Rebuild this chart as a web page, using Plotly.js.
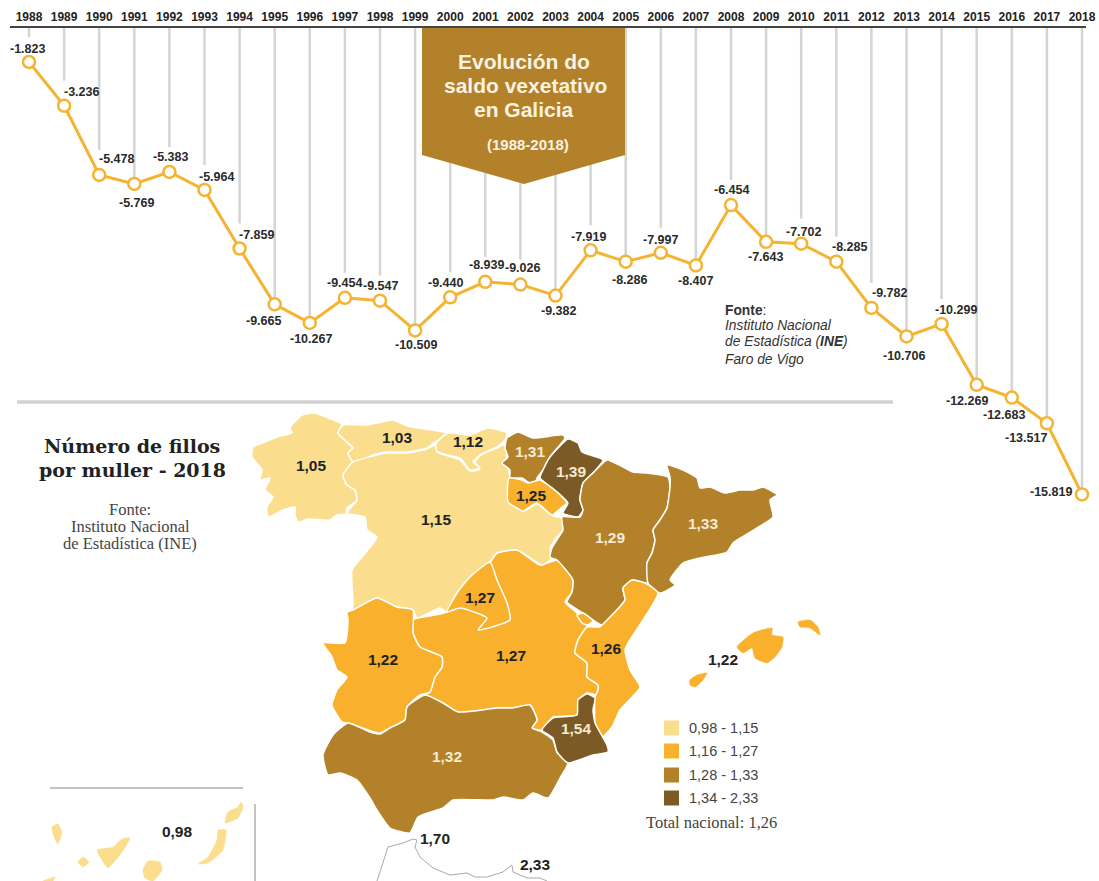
<!DOCTYPE html>
<html><head><meta charset="utf-8">
<script src="https://cdn.plot.ly/plotly-3.0.1.min.js"></script>
<style>html,body{margin:0;padding:0;background:#fff}#c{width:1099px;height:881px}</style>
</head><body><div id="c"></div>
<script>
// ---- data: natural balance (saldo vexetativo)
const years=[1988,1989,1990,1991,1992,1993,1994,1995,1996,1997,1998,1999,2000,2001,2002,2003,2004,2005,2006,2007,2008,2009,2010,2011,2012,2013,2014,2015,2016,2017,2018];
const saldo=[-1823,-3236,-5478,-5769,-5383,-5964,-7859,-9665,-10267,-9454,-9547,-10509,-9440,-8939,-9026,-9382,-7919,-8286,-7997,-8407,-6454,-7643,-7702,-8285,-9782,-10706,-10299,-12269,-12683,-13517,-15819];
// ---- label offsets (px) relative to each point
const labelDx=[-2,17,17,2,1,12,17,-11,1,0,0,1,-5,1,2,3,-2,4,0,0,0,-1,2,13,18,-3,14,-10,-8,-21,-31];
const labelDy=[-13,-14,-16,19,-15,-13,-14,17,16,-15,-15,15,-14,-17,-17,15,-13,18,-13,16,-15,15,-12,-15,-15,20,-14,16,17,15,-2];

// ---- data: fertility by region (fillos por muller)
const regionNames=["Galicia","Asturias","Cantabria","Castela e León","País Vasco","Navarra","A Rioxa","Aragón","Cataluña","Valencia","Castela-A Mancha","Madrid","Estremadura","Andalucía","Murcia","Baleares","Canarias","Ceuta","Melilla"];
const fertility=[1.05,1.03,1.12,1.15,1.31,1.39,1.25,1.29,1.33,1.26,1.27,1.27,1.22,1.32,1.54,1.22,0.98,1.70,2.33];
const binLabels=["0,98 - 1,15","1,16 - 1,27","1,28 - 1,33","1,34 - 2,33"];
const binTops=[1.15,1.27,1.33,2.33];
const binColors=["#FBDD8E","#F9B12D","#B2812A","#7C5A26"];

// ---- map geometry, in sheet units
const shapes={
 "Castela-A Mancha":[[[417,618],[447,612],[470,577],[490,562],[497,553],[517,550],[540,565],[558,560],[573,580],[572,592],[565,602],[577,613],[588,625],[578,640],[575,653],[587,663],[587,677],[598,685],[598,695],[587,693],[578,700],[577,715],[553,717],[542,730],[532,728],[537,720],[530,705],[513,708],[497,708],[458,712],[443,703],[425,695],[430,692],[435,677],[442,667],[442,657],[420,647],[413,633],[413,620]]],
 "Galicia":[[[290,428],[302,415],[315,413],[328,418],[342,424],[338,433],[347,442],[353,448],[348,453],[353,461],[343,475],[347,485],[355,490],[357,500],[347,508],[346,514],[337,515],[330,520],[308,519],[298,522],[295,515],[295,507],[283,510],[268,517],[267,507],[273,497],[265,490],[270,478],[260,480],[262,470],[252,457],[253,447],[265,442],[277,437],[292,433]]],
 "Asturias":[[[343,425],[367,425],[393,420],[407,426],[447,433],[448,435],[435,442],[427,448],[407,452],[387,452],[373,455],[363,460],[353,462],[348,453],[353,448],[347,442],[338,433]]],
 "Cantabria":[[[448,433],[470,435],[488,428],[507,433],[505,440],[497,447],[480,455],[473,462],[480,468],[470,470],[460,458],[447,455],[435,450],[437,442]]],
 "Castela e León":[[[353,462],[373,456],[387,453],[407,453],[427,449],[435,445],[437,452],[460,460],[470,471],[480,469],[475,462],[481,455],[497,448],[505,445],[507,463],[510,477],[508,500],[523,511],[537,504],[553,516],[562,518],[563,530],[557,537],[550,548],[552,558],[542,565],[517,550],[497,553],[490,562],[470,577],[457,593],[447,612],[440,608],[417,618],[413,610],[397,607],[377,598],[353,610],[353,600],[352,570],[362,557],[377,537],[367,530],[365,517],[347,513],[357,500],[355,490],[347,485],[343,475]]],
 "País Vasco":[[[507,438],[518,432],[533,438],[563,435],[565,438],[550,457],[543,470],[537,478],[535,485],[528,482],[522,478],[510,478],[510,470],[502,463],[508,457],[505,448]]],
 "Navarra":[[[568,439],[578,443],[582,452],[603,460],[593,473],[583,483],[580,500],[583,510],[578,517],[563,513],[568,503],[557,492],[540,478],[543,470],[550,457]]],
 "A Rioxa":[[[509,478],[522,480],[528,483],[540,480],[557,492],[567,503],[562,507],[552,515],[537,503],[523,511],[515,507],[508,502]]],
 "Aragón":[[[607,460],[623,467],[633,472],[647,473],[668,477],[670,487],[667,508],[660,520],[653,530],[655,540],[652,553],[647,563],[648,583],[633,580],[623,588],[625,600],[615,612],[602,625],[593,620],[583,613],[567,602],[572,592],[573,580],[557,560],[550,557],[552,548],[560,535],[563,530],[562,517],[580,517],[583,510],[580,500],[583,483],[593,473]]],
 "Cataluña":[[[667,465],[683,470],[697,478],[700,488],[710,487],[725,493],[740,490],[753,490],[763,487],[777,495],[770,500],[773,517],[757,528],[733,543],[727,552],[700,558],[683,563],[670,580],[675,585],[660,593],[648,583],[647,563],[652,553],[655,540],[653,530],[660,520],[667,508],[670,487],[670,477]]],
 "Valencia":[[[632,580],[647,584],[658,593],[643,620],[628,643],[625,650],[630,670],[640,687],[620,710],[612,727],[597,742],[595,730],[595,697],[598,690],[598,685],[587,677],[587,663],[575,653],[578,640],[587,627],[600,627],[602,625],[615,612],[625,600],[623,588]],[[577,615],[583,613],[593,621],[587,625],[582,623]]],
 "Madrid":[[[490,562],[497,580],[507,603],[510,620],[478,630],[487,618],[460,608],[447,612],[457,593],[470,577]]],
 "Estremadura":[[[347,612],[353,610],[377,598],[397,607],[413,610],[413,633],[420,647],[442,657],[442,667],[435,677],[430,692],[420,695],[407,707],[405,720],[390,728],[380,733],[368,730],[348,723],[342,722],[332,705],[337,690],[347,677],[337,670],[332,657],[323,643],[345,643],[348,620]]],
 "Andalucía":[[[348,723],[370,732],[380,734],[390,728],[405,720],[407,707],[425,695],[443,703],[458,712],[497,708],[513,708],[530,705],[537,720],[532,728],[542,732],[553,740],[557,752],[568,763],[560,778],[548,798],[533,793],[523,800],[503,797],[493,800],[453,800],[443,808],[418,817],[410,833],[390,828],[377,810],[370,798],[357,780],[340,773],[328,775],[323,755],[333,735]]],
 "Murcia":[[[587,694],[595,698],[593,710],[595,723],[607,745],[608,752],[593,755],[568,763],[557,752],[553,738],[542,730],[553,718],[577,715],[578,700]]],
 "Baleares":[[[737,647],[753,633],[772,628],[772,635],[783,637],[782,647],[775,657],[767,663],[755,658],[752,648],[743,653]],[[798,622],[810,620],[818,627],[820,635],[810,628],[800,627]],[[690,680],[697,675],[707,673],[703,680],[695,687],[690,685]]],
 "Canarias":[[[52,827],[58,824],[62,832],[58,844],[54,837]],[[97,850],[113,847],[122,839],[130,838],[122,852],[108,868],[102,860]],[[78,862],[83,857],[89,862],[83,867]],[[143,870],[148,861],[160,862],[162,870],[153,881],[145,878]],[[218,830],[226,830],[223,850],[208,863],[198,864],[208,857],[217,840]],[[225,823],[228,812],[238,807],[241,802],[243,807],[238,818]],[[43,881],[55,877],[53,881]]]
};
const africaCoast=[[377,881],[388,847],[403,843],[413,839],[417,840],[415,847],[420,857],[433,868],[450,875],[467,873],[475,877],[487,877],[503,872],[512,865],[513,872],[527,878],[540,878],[547,881]];
const bannerOutline=[[422,28],[625,28],[625,155],[524,184],[422,155]];
const labelAnchor={"Galicia":[311,467],"Asturias":[397,439],"Cantabria":[468,443],"Castela e León":[436,521],"País Vasco":[530,453],"Navarra":[571,473],"A Rioxa":[531,497],"Aragón":[610,539],"Cataluña":[703,525],"Valencia":[606,650],"Castela-A Mancha":[511,657],"Madrid":[480,599],"Estremadura":[383,661],"Andalucía":[447,758],"Murcia":[576,730],"Baleares":[723,661],"Canarias":[177,833],"Ceuta":[435,840],"Melilla":[535,866]};
const legendY=[728,751,775,798];

// ---- helpers
const fmt=v=>{const s=String(Math.abs(v));return '-'+s.replace(/\B(?=(\d{3})+$)/g,'.');};
const comma=v=>v.toFixed(2).replace('.',',');
const colorFor=v=>binColors[binTops.findIndex(t=>v<=t)];
const SANS='"Liberation Sans", Arial, sans-serif', SERIF='"Liberation Serif", Georgia, serif', WIDESERIF='"DejaVu Serif", Georgia, serif';
const AXTOP=-723, AXBOT=-17940;

const traces=[];
// drop lines from the year axis
const sx=[],sy=[];
years.forEach((y,i)=>{const above=labelDy[i]<0&&i<30;sx.push(y,y,null);sy.push(AXTOP,saldo[i]+(above?25/0.0309:0),null);});
traces.push({type:'scatter',mode:'lines',x:sx,y:sy,line:{color:'#d4d4d4',width:2.5},hoverinfo:'skip'});
traces.push({type:'scatter',mode:'lines+markers',x:years,y:saldo,line:{color:'#F4B432',width:3},cliponaxis:false,
  marker:{size:12,color:'#fff',line:{color:'#F4B432',width:2.5}}});

// map polygons
const polyXY=p=>{const x=[],y=[];p.forEach(r=>{r.forEach(q=>{x.push(q[0]);y.push(q[1]);});x.push(r[0][0],null);y.push(r[0][1],null);});return {x,y};};
Object.keys(shapes).forEach(n=>{
  const g=polyXY(shapes[n]);
  const v=fertility[regionNames.indexOf(n)];
  traces.push({type:'scatter',mode:'lines',xaxis:'x2',yaxis:'y2',x:g.x,y:g.y,fill:'toself',fillcolor:colorFor(v),
    line:{shape:'spline',smoothing:0.5,color:n==='Canarias'||n==='Baleares'?colorFor(v):'#fff',width:n==='Canarias'||n==='Baleares'?0.5:1.5},name:n,hoverinfo:'skip'});
});
// coast of Africa
traces.push({type:'scatter',mode:'lines',xaxis:'x2',yaxis:'y2',x:africaCoast.map(p=>p[0]),y:africaCoast.map(p=>p[1]),line:{color:'#aaa',width:1},hoverinfo:'skip'});
// banner
const bo=bannerOutline.concat([bannerOutline[0]]);
traces.push({type:'scatter',mode:'lines',xaxis:'x2',yaxis:'y2',x:bo.map(p=>p[0]),y:bo.map(p=>p[1]),fill:'toself',fillcolor:'#B2812A',line:{color:'#B2812A',width:0},hoverinfo:'skip'});
// separators
traces.push({type:'scatter',mode:'lines',xaxis:'x2',yaxis:'y2',x:[17,893],y:[402,402],line:{color:'#d2d2d2',width:3.5},hoverinfo:'skip'});
traces.push({type:'scatter',mode:'lines',xaxis:'x2',yaxis:'y2',x:[50,243,null,255,255],y:[788,788,null,804,881],line:{color:'#888',width:1},hoverinfo:'skip'});
// region value labels
const darkText=v=>v<=1.27||v>=1.7;
[true,false].forEach(d=>{
  const idx=regionNames.map((n,i)=>i).filter(i=>darkText(fertility[i])===d);
  traces.push({type:'scatter',mode:'text',xaxis:'x2',yaxis:'y2',x:idx.map(i=>labelAnchor[regionNames[i]][0]),y:idx.map(i=>labelAnchor[regionNames[i]][1]),
    text:idx.map(i=>comma(fertility[i])),textposition:'middle center',
    textfont:{family:SANS,size:15.5,weight:700,color:d?'#222':'#F6EBD3'},hoverinfo:'skip'});
});
// legend swatches
traces.push({type:'scatter',mode:'markers',xaxis:'x2',yaxis:'y2',x:binColors.map(()=>671.5),y:legendY,marker:{symbol:'square',size:15,color:binColors},hoverinfo:'skip'});

const ann=[];
const txt=(x,y,text,o={})=>ann.push(Object.assign({xref:'x2',yref:'y2',x,y,text,showarrow:false,xanchor:'center',yanchor:'middle',borderpad:0,font:{family:SANS,size:12,color:'#333'}},o));
// data labels
years.forEach((y,i)=>ann.push({xref:'x',yref:'y',x:y,y:saldo[i],text:fmt(saldo[i]),showarrow:false,xanchor:'center',yanchor:'middle',xshift:labelDx[i],yshift:-labelDy[i],font:{family:SANS,size:12.5,weight:700,color:'#2a2a2a'}}));
// banner text
const wht={family:SANS,size:21,weight:700,color:'#FBF3E2'};
txt(524,61,'Evolución do',{font:wht});txt(525,85,'saldo vexetativo',{font:wht});txt(524,109,'en Galicia',{font:wht});
txt(528,144,'(1988-2018)',{font:{family:SANS,size:15,weight:700,color:'#FBF3E2'}});
// source
const src={family:SANS,size:13.8,color:'#333'};
txt(724,310,'<b>Fonte</b>:',{xanchor:'left',font:src});
txt(724,325,'<i>Instituto Nacional</i>',{xanchor:'left',font:src});
txt(724,341,'<i>de Estadística (<b>INE</b>)</i>',{xanchor:'left',font:src});
txt(724,359,'<i>Faro de Vigo</i>',{xanchor:'left',font:src});
// map titles
const ttl={family:WIDESERIF,size:19,weight:700,color:'#222'};
txt(132,446,'Número de fillos',{font:ttl});txt(132,470,'por muller - 2018',{font:ttl});
const sub={family:SERIF,size:16.5,color:'#444'};
txt(130,509,'Fonte:',{font:sub});txt(130,526,'Instituto Nacional',{font:sub});txt(130,543,'de Estadística (INE)',{font:sub});
// legend text
binLabels.forEach((t,i)=>txt(688,legendY[i],t,{xanchor:'left',font:{family:SANS,size:14.5,color:'#444'}}));
txt(645,822,'Total nacional: 1,26',{xanchor:'left',font:{family:SERIF,size:16.5,color:'#444'}});

const layout={width:1099,height:881,margin:{l:0,r:0,t:0,b:0},paper_bgcolor:'#fff',plot_bgcolor:'rgba(0,0,0,0)',showlegend:false,hovermode:false,
 xaxis:{domain:[10/1099,1086/1099],range:[1988-19/35.1,2018+4/35.1],side:'top',anchor:'y',tickmode:'array',tickvals:years,ticktext:years.map(String),
   tickfont:{family:SANS,size:12,weight:700,color:'#222'},showgrid:false,zeroline:false,showline:true,linecolor:'#444',linewidth:2,ticks:'',tickangle:0},
 yaxis:{domain:[1-560/881,1-28/881],range:[AXBOT,AXTOP],visible:false,anchor:'x'},
 xaxis2:{domain:[0,1],range:[0,1099],visible:false,anchor:'y2'},
 yaxis2:{domain:[0,1],range:[881,0],visible:false,anchor:'x2'},
 annotations:ann};
Plotly.newPlot('c',traces,layout,{displayModeBar:false,staticPlot:true});
</script></body></html>
